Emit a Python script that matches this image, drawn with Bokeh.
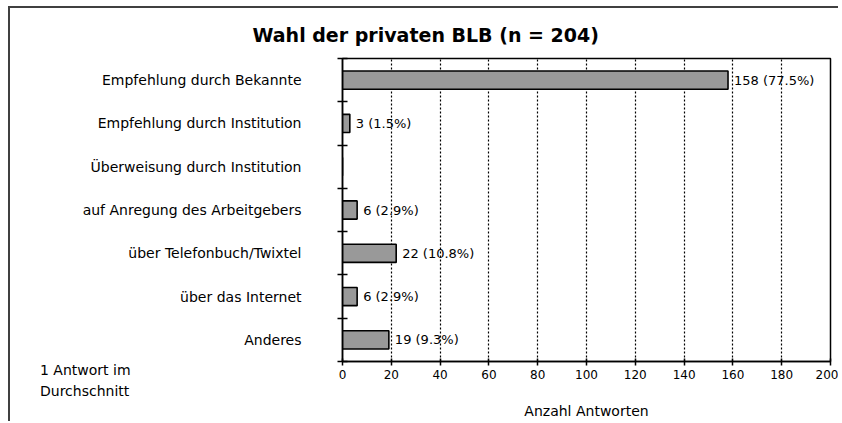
from bokeh.plotting import figure
from bokeh.models import Range1d, LinearAxis, FixedTicker, ColumnDataSource, Div
from bokeh.layouts import column
from bokeh.core.properties import value
from bokeh.embed import file_html
from bokeh.resources import INLINE

# ---- data ----
title = "Wahl der privaten BLB (n = 204)"
n_total = 204
categories = [
    "Empfehlung durch Bekannte",
    "Empfehlung durch Institution",
    "Überweisung durch Institution",
    "auf Anregung des Arbeitgebers",
    "über Telefonbuch/Twixtel",
    "über das Internet",
    "Anderes",
]
counts = [158, 3, 0, 6, 22, 6, 19]
x_ticks = [0, 20, 40, 60, 80, 100, 120, 140, 160, 180, 200]
x_label = "Anzahl Antworten"
note_lines = ["1 Antwort im", "Durchschnitt"]

FONT = "DejaVu Sans"
N = len(categories)
ypos = [N - i - 0.5 for i in range(N)]
labels = [f"{c} ({c / n_total * 100:.1f}%)" if c > 0 else "" for c in counts]
src = ColumnDataSource(dict(y=ypos, val=counts, lab=labels))

W, H = 830, 415
p = figure(width=W, height=H, output_backend="svg", toolbar_location=None,
           y_range=Range1d(0, N), x_range=Range1d(0, 200),
           x_axis_location=None, y_axis_location=None,
           min_border_left=332, min_border_right=10, min_border_top=49, min_border_bottom=62)
p.background_fill_color = "white"
p.border_fill_color = "white"
p.outline_line_color = "black"
p.outline_line_width = 1.5
p.styles = {"margin-top": "6px", "margin-left": "8px",
            "border-top": "2px solid #404040", "border-left": "2px solid #404040"}

# title
p.title.text = title
p.title.align = "left"
p.title.offset = -90
p.title.text_font = FONT
p.title.text_font_size = "19px"
p.title.text_font_style = "bold"
p.title.text_color = "black"
p.title.standoff = 26

# bars
p.hbar(y="y", right="val", left=0, height=0.42, source=src,
       fill_color="#999999", line_color="black", line_width=1.6)

# value labels
p.text(x="val", y="y", text="lab", source=src, x_offset=6,
       text_baseline="middle", text_align="left",
       text_font=value(FONT), text_font_size="13px", text_color="black")

# x axis
xaxis = LinearAxis(ticker=FixedTicker(ticks=x_ticks), axis_label=x_label)
xaxis.axis_line_color = "black"
xaxis.axis_line_width = 1.5
xaxis.major_tick_in = 3
xaxis.major_tick_out = 4
xaxis.major_tick_line_width = 1.5
xaxis.minor_tick_line_color = None
xaxis.major_label_standoff = 4
xaxis.major_label_text_font = FONT
xaxis.major_label_text_font_size = "12px"
xaxis.major_label_text_color = "black"
xaxis.axis_label_text_font = FONT
xaxis.axis_label_text_font_size = "14px"
xaxis.axis_label_text_font_style = "normal"
xaxis.axis_label_text_color = "black"
xaxis.axis_label_standoff = 21
p.add_layout(xaxis, "below")

# boundary tick axis (nearest the frame)
yticks = LinearAxis(ticker=FixedTicker(ticks=list(range(N + 1))))
yticks.major_label_overrides = {i: "" for i in range(N + 1)}
yticks.major_label_text_font_size = "1px"
yticks.major_tick_in = 5
yticks.major_tick_out = 5
yticks.major_tick_line_width = 1.5
yticks.minor_tick_line_color = None
yticks.axis_line_width = 1.5
yticks.major_label_standoff = 0
p.add_layout(yticks, "left")

# category labels
yaxis = LinearAxis(ticker=FixedTicker(ticks=ypos))
yaxis.major_label_overrides = {y: c for y, c in zip(ypos, categories)}
yaxis.axis_line_color = None
yaxis.major_tick_line_color = None
yaxis.minor_tick_line_color = None
yaxis.major_label_standoff = 30
yaxis.major_label_text_font = FONT
yaxis.major_label_text_font_size = "14px"
yaxis.major_label_text_color = "black"
p.add_layout(yaxis, "left")

# grid
p.xgrid.ticker = FixedTicker(ticks=x_ticks[1:-1])
p.xgrid.grid_line_color = "black"
p.xgrid.grid_line_dash = "2 2"
p.xgrid.grid_line_width = 1.2
p.ygrid.grid_line_color = None

# note in the lower-left corner, laid over the figure
note = Div(text="<br>".join(note_lines),
           styles={"margin-top": "-61px", "margin-left": "40px", "position": "relative",
                   "z-index": "10", "font-family": FONT, "font-size": "14px",
                   "line-height": "21px", "color": "black"})

layout = column(p, note)
open("out.html", "w").write(file_html(layout, INLINE))
